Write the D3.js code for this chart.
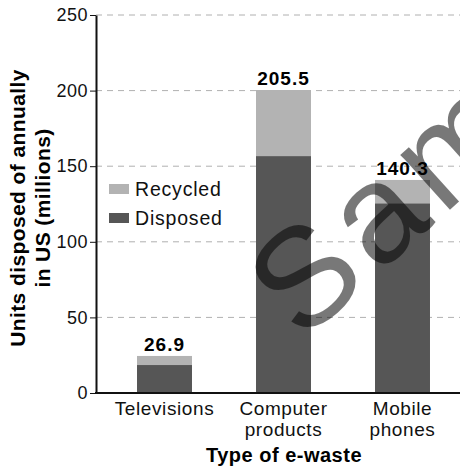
<!DOCTYPE html>
<html>
<head>
<meta charset="utf-8">
<script src="https://cdn.jsdelivr.net/npm/d3@7"></script>
<style>
  body { margin: 0; background: #fff; }
  svg { display: block; font-family: "Liberation Sans", Arial, sans-serif; }
</style>
</head>
<body>
<svg id="chart" width="460" height="472"></svg>
<script>
// data
var categories = ["Televisions", "Computer products", "Mobile phones"];
var categoryLines = [["Televisions"], ["Computer", "products"], ["Mobile", "phones"]];
var disposed = [18.5, 156.7, 125.5];
var recycled = [6.0, 43.7, 15.4];
var totalLabels = ["26.9", "205.5", "140.3"];
var yTicks = [0, 50, 100, 150, 200, 250];
var seriesNames = ["Recycled", "Disposed"];
var seriesColors = ["#b3b3b3", "#565656"];

var translate = function(x, y) { return "translate(" + x + "," + y + ")"; };

var svg = d3.select("#chart");

var axisX = 96, plotTop = 15, plotBottom = 393, plotRight = 460;

var y = d3.scaleLinear().domain([0, 250]).range([plotBottom, plotTop]);
var x = d3.scaleBand()
  .domain(categories)
  .range([105, 462])
  .paddingInner(0.538)
  .paddingOuter(0.269);

// gridlines
svg.append("g")
  .selectAll("line")
  .data(yTicks.filter(function(d) { return d > 0; }))
  .enter().append("line")
  .attr("x1", axisX)
  .attr("x2", plotRight)
  .attr("y1", function(d) { return y(d); })
  .attr("y2", function(d) { return y(d); })
  .attr("stroke", "#b0b0b0")
  .attr("stroke-width", 1)
  .attr("stroke-dasharray", "6,5");

// stacked bars
var rows = categories.map(function(c, i) {
  return { cat: c, Disposed: disposed[i], Recycled: recycled[i] };
});
var stack = d3.stack().keys(["Disposed", "Recycled"]);
var layers = stack(rows);

svg.selectAll(".layer")
  .data(layers)
  .enter().append("g")
  .attr("class", "layer")
  .attr("fill", function(d) { return d.key == "Disposed" ? seriesColors[1] : seriesColors[0]; })
  .selectAll("rect")
  .data(function(d) { return d; })
  .enter().append("rect")
  .attr("x", function(d) { return x(d.data.cat); })
  .attr("y", function(d) { return y(d[1]); })
  .attr("width", x.bandwidth())
  .attr("height", function(d) { return y(d[0]) - y(d[1]); });

// value labels
svg.selectAll(".total")
  .data(rows)
  .enter().append("text")
  .attr("class", "total")
  .attr("x", function(d) { return x(d.cat) + x.bandwidth() / 2; })
  .attr("y", function(d) { return y(d.Disposed + d.Recycled) - 5; })
  .attr("text-anchor", "middle")
  .style("font-size", "19px")
  .style("font-weight", "bold")
  .style("letter-spacing", "1px")
  .text(function(d, i) { return totalLabels[i]; });

// y axis
var yAxis = d3.axisLeft(y)
  .tickValues(yTicks)
  .tickSize(6)
  .tickSizeOuter(0)
  .tickPadding(2);

var gy = svg.append("g")
  .attr("transform", translate(axisX, 0))
  .call(yAxis);
gy.select(".domain").attr("stroke", "#111").attr("stroke-width", 2);
gy.selectAll(".tick line").attr("stroke", "#111").attr("stroke-width", 1);
gy.selectAll("text")
  .attr("fill", "#111")
  .style("font-size", "18px")
  .style("font-family", "Liberation Sans, Arial, sans-serif")
  .style("letter-spacing", "0.5px");

// x axis
var xAxis = d3.axisBottom(x).tickSize(0).tickPadding(0);
var gx = svg.append("g")
  .attr("transform", translate(0, plotBottom))
  .call(xAxis);
gx.select(".domain").remove();
gx.append("line")
  .attr("x1", axisX - 1)
  .attr("x2", plotRight)
  .attr("stroke", "#111")
  .attr("stroke-width", 2);
gx.selectAll(".tick text")
  .text(null)
  .attr("y", 0)
  .attr("dy", null)
  .attr("fill", "#111")
  .style("font-size", "19px")
  .style("font-family", "Liberation Sans, Arial, sans-serif")
  .style("letter-spacing", "0.6px")
  .each(function(d, i) {
    var t = d3.select(this);
    categoryLines[i].forEach(function(line, j) {
      t.append("tspan").attr("x", 0).attr("y", 22 + j * 21).text(line);
    });
  });

// axis titles
svg.append("text")
  .attr("x", 284)
  .attr("y", 462)
  .attr("text-anchor", "middle")
  .style("font-size", "20px")
  .style("font-weight", "bold")
  .style("letter-spacing", "0.5px")
  .text("Type of e-waste");

var yTitle = svg.append("text")
  .attr("transform", translate(0, 208) + " rotate(-90)")
  .attr("text-anchor", "middle")
  .style("font-size", "21px")
  .style("font-weight", "bold")
  .style("letter-spacing", "0.4px");
yTitle.append("tspan").attr("x", 0).attr("y", 25).text("Units disposed of annually");
yTitle.append("tspan").attr("x", 0).attr("y", 50).text("in US (millions)");

// legend
var legend = svg.selectAll(".legend")
  .data(seriesNames)
  .enter().append("g")
  .attr("class", "legend")
  .attr("transform", function(d, i) { return translate(109, 189 + i * 29); });

legend.append("rect")
  .attr("x", 0)
  .attr("y", -5)
  .attr("width", 20)
  .attr("height", 10)
  .attr("fill", function(d, i) { return seriesColors[i]; });

legend.append("text")
  .attr("x", 26)
  .attr("y", 7)
  .style("font-size", "19.5px")
  .style("letter-spacing", "0.8px")
  .attr("fill", "#111")
  .text(function(d) { return d; });

// watermark
svg.append("text")
  .attr("transform", translate(302, 343) + " rotate(-42)")
  .style("font-size", "140px")
  .style("letter-spacing", "9px")
  .attr("fill", "#000")
  .attr("fill-opacity", 0.53)
  .text("Sample");
</script>
</body>
</html>
